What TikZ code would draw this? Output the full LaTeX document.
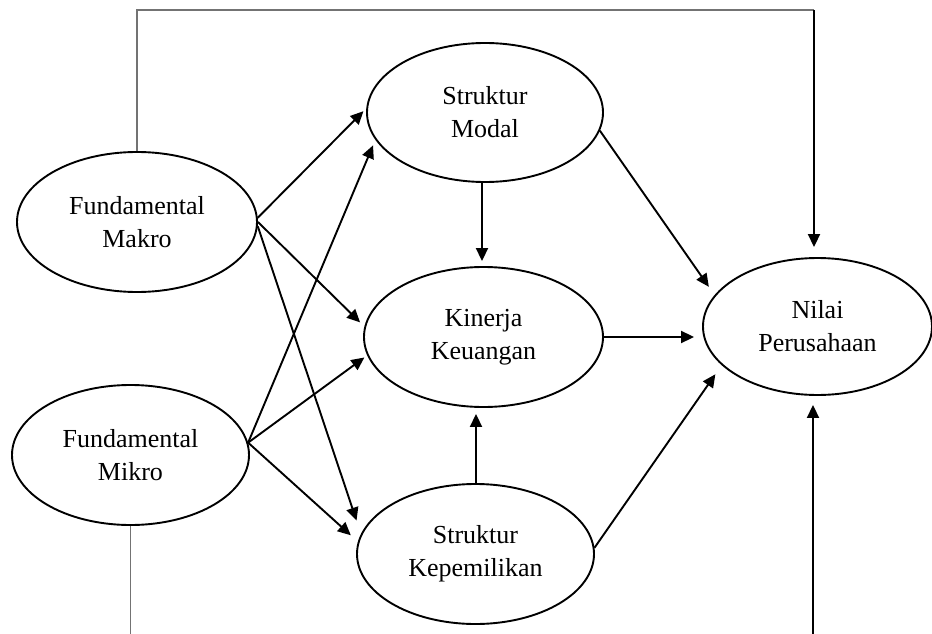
\documentclass[tikz,border=0pt]{standalone}
\usepackage{fontspec}
\setmainfont{Liberation Serif}
\usetikzlibrary{shapes.geometric,arrows.meta}
\begin{document}
\begin{tikzpicture}[x=1pt,y=-1pt,
  ell/.style={draw,ellipse,line width=1.9pt,inner sep=0pt,align=center,
    font=\fontsize{26}{33}\selectfont},
  arr/.style={line width=1.9pt,-{Triangle[length=13pt,width=12pt]}},
  grayline/.style={line width=1.4pt,draw=black!55}]
\useasboundingbox (0,0) rectangle (932,634);
\node[ell,minimum width=240pt,minimum height=140pt] (mak) at (137,222) {Fundamental\\Makro};
\node[ell,minimum width=237pt,minimum height=140pt] (mik) at (130.5,455) {Fundamental\\Mikro};
\node[ell,minimum width=236pt,minimum height=139pt] (sm) at (485,112.5) {Struktur\\Modal};
\node[ell,minimum width=239pt,minimum height=140pt] (kk) at (483.5,337) {Kinerja\\Keuangan};
\node[ell,minimum width=237pt,minimum height=140pt] (kp) at (475.5,554) {Struktur\\Kepemilikan};
\node[ell,minimum width=229pt,minimum height=137pt] (np) at (817.5,326.5) {Nilai\\Perusahaan};
\coordinate (tl) at (137,10);
\coordinate (tr) at (814,10);
\coordinate (bl) at (130.5,634);
\coordinate (br) at (813,634);
\draw[grayline] (mak.north) -- (tl) -- (tr);
\draw[arr,shorten >=10pt] (tr) -- (tr |- np.north);
\draw[grayline] (mik.south) -- (bl);
\draw[arr,shorten >=9pt] (br) -- (br |- np.south);
\draw[arr,shorten >=4pt] (mak.2) -- (sm.178);
\draw[arr,shorten >=6pt] (mak.0) -- (kk.175.6);
\draw[arr,shorten >=14pt] (mak.-2) -- (kp.170.7);
\draw[arr,shorten >=6pt] (mik.6) -- (sm.194);
\draw[arr,shorten >=3.5pt] (mik.6) -- (kk.189);
\draw[arr,shorten >=9.5pt] (mik.6) -- (kp.174);
\draw[arr,shorten >=5pt] ([xshift=-3pt]sm.south) -- ([xshift=-3pt]sm.south |- kk.north);
\draw[arr,shorten >=6pt] ([xshift=0.5pt]kp.north) -- ([xshift=0.5pt]kp.north |- kk.south);
\draw[arr,shorten >=10pt] (sm.-9.5) -- (np.163);
\draw[arr,shorten >=8pt] (kk.east) -- (kk.east -| np.west);
\draw[arr,shorten >=11pt] (kp.3.4) -- (np.202.5);
\end{tikzpicture}
\end{document}
